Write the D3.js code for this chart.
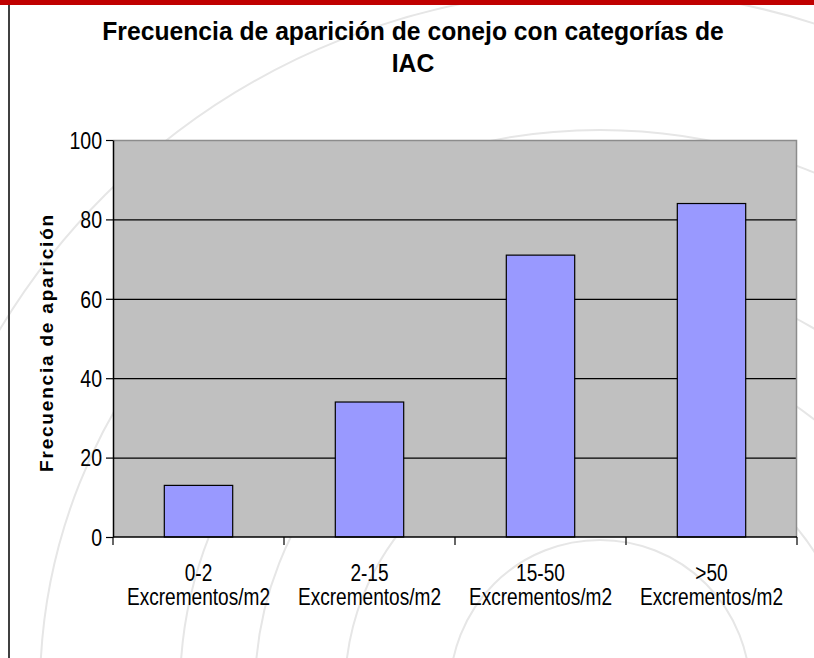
<!DOCTYPE html>
<html>
<head>
<meta charset="utf-8">
<script src="https://cdn.jsdelivr.net/npm/d3@7"></script>
<style>
  body { margin: 0; background: #fff; }
  svg { display: block; }
  text { font-family: Arial, "Liberation Sans", sans-serif; fill: #000; }
</style>
</head>
<body>
<div id="chart"></div>
<script>
// data
const categories = ["0-2", "2-15", "15-50", ">50"]
const categorySub = "Excrementos/m2"
const frecuencia = [13, 34, 71, 84]
const yTicks = [0, 20, 40, 60, 80, 100]
const titleLines = ["Frecuencia de aparición de conejo con categorías de", "IAC"]
const yTitle = "Frecuencia de aparición"

function draw() {
    let dimensions = {
        width: 814,
        height: 658,
        margins: { top: 140, right: 17, bottom: 121, left: 113 },
    }
    dimensions.ctrWidth = dimensions.width - dimensions.margins.left - dimensions.margins.right
    dimensions.ctrHeight = dimensions.height - dimensions.margins.top - dimensions.margins.bottom

    const svg = d3.select('#chart')
        .append("svg")
        .attr("width", dimensions.width)
        .attr("height", dimensions.height)

    // faint watermark rings behind everything
    const rings = [150, 255, 345, 420, 560, 700]
    svg.append("g")
        .selectAll("circle")
        .data(rings)
        .join("circle")
        .attr("cx", 600)
        .attr("cy", 690)
        .attr("r", d => d)
        .attr("fill", "none")
        .attr("stroke", "#e6e6e6")
        .attr("stroke-width", 2)

    // page decoration: red band on top, dark rule on the left
    svg.append("rect")
        .attr("x", 0).attr("y", 0)
        .attr("width", dimensions.width).attr("height", 5)
        .attr("fill", "#c00000")
    svg.append("rect")
        .attr("x", 8).attr("y", 5)
        .attr("width", 2).attr("height", dimensions.height - 5)
        .attr("fill", "#404040")

    // title (slightly condensed, like the original)
    svg.append("g")
        .attr("transform", "translate(413,0) scale(0.95,1)")
        .append("text")
        .attr("text-anchor", "middle")
        .style("font-size", "26px")
        .style("font-weight", "bold")
        .selectAll("tspan")
        .data(titleLines)
        .join("tspan")
        .attr("x", 0)
        .attr("y", (d, i) => 40 + i * 32)
        .text(d => d)

    const ctr = svg.append("g")
        .attr("transform", `translate(${dimensions.margins.left}, ${dimensions.margins.top})`)

    // scales
    const x = d3.scaleBand()
        .domain(categories)
        .range([0, dimensions.ctrWidth])
        .paddingInner(0.6)
        .paddingOuter(0.3)

    const xTicks = d3.scaleBand()
        .domain(categories)
        .range([0, dimensions.ctrWidth])

    const y = d3.scaleLinear()
        .domain([0, 100])
        .range([dimensions.ctrHeight, 0])

    // plot area
    ctr.append("rect")
        .attr("width", dimensions.ctrWidth)
        .attr("height", dimensions.ctrHeight)
        .attr("fill", "#c0c0c0")

    // gridlines
    ctr.append("g")
        .selectAll("line")
        .data(yTicks.filter(d => d > 0 && d < 100))
        .join("line")
        .attr("x1", 0).attr("x2", dimensions.ctrWidth)
        .attr("y1", d => y(d) + 0.5).attr("y2", d => y(d) + 0.5)
        .attr("stroke", "#000")
        .attr("stroke-width", 1.2)

    // border top / right
    ctr.append("path")
        .attr("d", `M0,${y(100) + 0.5}H${dimensions.ctrWidth - 0.5}V${dimensions.ctrHeight}`)
        .attr("fill", "none")
        .attr("stroke", "#8c8c8c")
        .attr("stroke-width", 1.5)

    // bars
    ctr.append("g")
        .selectAll("rect")
        .data(frecuencia)
        .join("rect")
        .attr("x", (d, i) => x(categories[i]))
        .attr("y", d => y(d))
        .attr("width", x.bandwidth())
        .attr("height", d => dimensions.ctrHeight - y(d))
        .attr("fill", "#9999ff")
        .attr("stroke", "#000")
        .attr("stroke-width", 1.2)

    // y axis
    const yAxis = ctr.append("g")
        .call(d3.axisLeft(y).tickValues(yTicks).tickSize(7).tickPadding(4).tickSizeOuter(0))
    yAxis.select(".domain").attr("stroke", "#000").attr("stroke-width", 1.5)
    yAxis.selectAll(".tick line").attr("stroke-width", 1.2)
    yAxis.selectAll(".tick text")
        .style("font-size", "23px")
        .style("font-family", "Arial, 'Liberation Sans', sans-serif")
        .attr("dy", "0.36em")
        .attr("transform", function () {
            const xx = +d3.select(this).attr("x")
            return `translate(${xx * 0.15},0) scale(0.85,1)`
        })

    // x axis: ticks at category boundaries
    const xAxis = ctr.append("g")
        .attr("transform", `translate(0, ${dimensions.ctrHeight})`)
    xAxis.append("line")
        .attr("x1", 0).attr("x2", dimensions.ctrWidth)
        .attr("stroke", "#000").attr("stroke-width", 1.5)
    const bounds = categories.map(c => xTicks(c)).concat([dimensions.ctrWidth])
    xAxis.selectAll(".tk")
        .data(bounds)
        .join("line")
        .attr("class", "tk")
        .attr("x1", d => d).attr("x2", d => d)
        .attr("y1", 0).attr("y2", 8)
        .attr("stroke", "#000").attr("stroke-width", 1.2)

    const labels = xAxis.selectAll(".lab")
        .data(categories)
        .join("text")
        .attr("class", "lab")
        .attr("text-anchor", "middle")
        .style("font-size", "23px")
        .attr("transform", d => `translate(${xTicks(d) + xTicks.bandwidth() / 2}, 0) scale(0.83,1)`)
    labels.append("tspan").attr("x", 0).attr("y", 44).text(d => d)
    labels.append("tspan").attr("x", 0).attr("y", 68).text(categorySub)

    // y title
    svg.append("text")
        .attr("transform", `translate(53, ${dimensions.margins.top + y(50) + 4}) rotate(-90)`)
        .attr("text-anchor", "middle")
        .style("font-size", "19px")
        .style("font-weight", "bold")
        .style("letter-spacing", "1.8px")
        .text(yTitle)
}
draw()
</script>
</body>
</html>
